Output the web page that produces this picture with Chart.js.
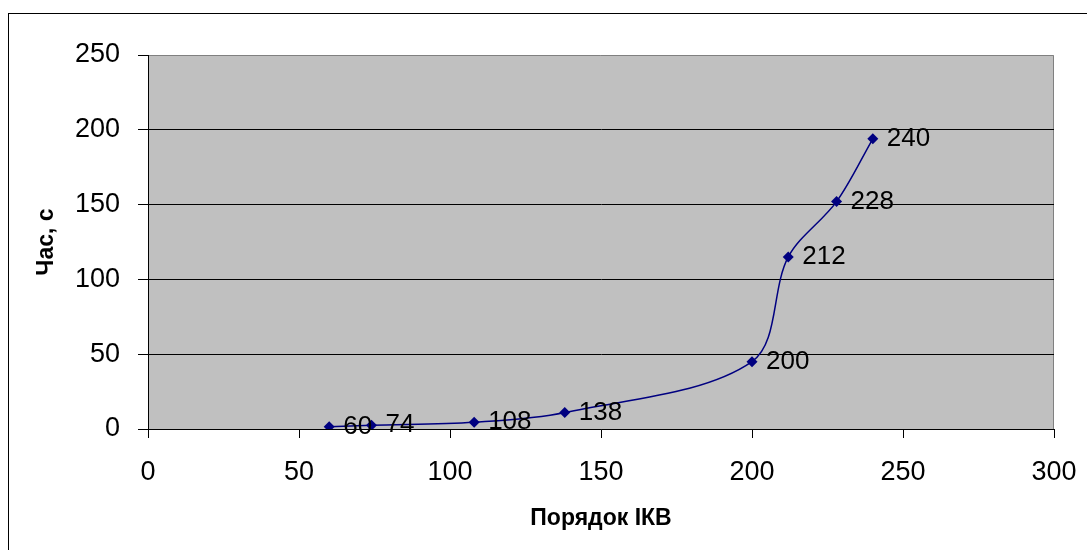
<!DOCTYPE html>
<html>
<head>
<meta charset="utf-8">
<script src="https://cdn.jsdelivr.net/npm/chart.js@4/dist/chart.umd.min.js"></script>
<style>
  html, body { margin: 0; padding: 0; background: #fff; }
  #wrap { width: 1087px; height: 550px; }
</style>
</head>
<body>
<div id="wrap"><canvas id="myChart" width="1087" height="550"></canvas></div>
<script>
// values
const ikvOrder = [60, 74, 108, 138, 200, 212, 228, 240];
const timeSec = [1.5, 2.5, 4.5, 11, 45, 115, 152, 194];
const pointLabels = ikvOrder.map(v => String(v));

const xTitle = "Порядок ІКВ";
const yTitle = "Час, с";

const FONT = "'Liberation Sans', Arial, sans-serif";

// gray plot area + outer frame
const backdrop = {
    id: "backdrop",
    beforeDraw(chart) {
        const { ctx, chartArea: a } = chart;
        ctx.save();
        ctx.fillStyle = "#fff";
        ctx.fillRect(0, 0, chart.width, chart.height);
        ctx.strokeStyle = "#000";
        ctx.lineWidth = 1;
        ctx.strokeRect(8.5, 13.5, 1200, 700);
        ctx.fillStyle = "#c0c0c0";
        ctx.fillRect(a.left, a.top, a.right - a.left, a.bottom - a.top);
        ctx.strokeStyle = "#808080";
        ctx.beginPath();
        ctx.moveTo(a.left, a.top + 0.5);
        ctx.lineTo(a.right - 0.5, a.top + 0.5);
        ctx.lineTo(a.right - 0.5, a.bottom);
        ctx.stroke();
        ctx.restore();
    },
};

// value labels to the right of each point
const pointText = {
    id: "pointText",
    afterDatasetsDraw(chart) {
        const { ctx } = chart;
        const meta = chart.getDatasetMeta(0);
        ctx.save();
        ctx.font = "26px " + FONT;
        ctx.fillStyle = "#000";
        ctx.textAlign = "left";
        ctx.textBaseline = "middle";
        meta.data.forEach((pt, i) => {
            ctx.fillText(pointLabels[i], pt.x + 14, pt.y);
        });
        ctx.restore();
    },
};

const ctx1 = document.getElementById("myChart").getContext("2d");

const myChart = new Chart(ctx1, {
    type: "scatter",
    data: {
        datasets: [
            {
                label: yTitle,
                data: ikvOrder.map((x, i) => ({ x: x, y: timeSec[i] })),
                showLine: true,
                tension: 0.33,
                borderColor: "#000080",
                borderWidth: 1.5,
                backgroundColor: "#000080",
                pointStyle: "rectRot",
                pointRadius: 5.5,
                pointBorderWidth: 0,
            },
        ],
    },
    options: {
        responsive: false,
        animation: false,
        layout: { padding: { top: 55, right: 33, left: 0, bottom: 0 } },
        scales: {
            x: {
                type: "linear",
                min: 0,
                max: 300,
                ticks: { stepSize: 50, color: "#000", padding: 18, maxRotation: 0, font: { family: FONT, size: 27 } },
                grid: { drawOnChartArea: false, drawTicks: true, tickLength: 9, tickColor: "#000" },
                border: { display: true, color: "#000", width: 1 },
                title: { display: true, text: xTitle, color: "#000", padding: { top: 0, bottom: 18 }, font: { family: FONT, size: 23, weight: "bold" } },
                afterFit: (scale) => {
                    scale.height = 121;
                    scale.paddingLeft = 0;
                    scale.paddingRight = 0;
                },
            },
            y: {
                min: 0,
                max: 250,
                ticks: { stepSize: 50, color: "#000", padding: 18, font: { family: FONT, size: 27 } },
                grid: {
                    color: (c) => (c.tick && c.tick.value === 250 ? "rgba(0,0,0,0)" : "#000"),
                    lineWidth: 1,
                    drawTicks: true,
                    tickLength: 10,
                    tickColor: "#000",
                },
                border: { display: true, color: "#000", width: 1 },
                title: { display: true, text: yTitle, color: "#000", padding: { top: 33, bottom: 0 }, font: { family: FONT, size: 23, weight: "bold" } },
                afterFit: (scale) => {
                    scale.width = 148;
                    scale.paddingTop = 0;
                    scale.paddingBottom = 0;
                },
            },
        },
        plugins: {
            legend: { display: false },
            tooltip: { enabled: false },
        },
    },
    plugins: [backdrop, pointText],
});
</script>
</body>
</html>
